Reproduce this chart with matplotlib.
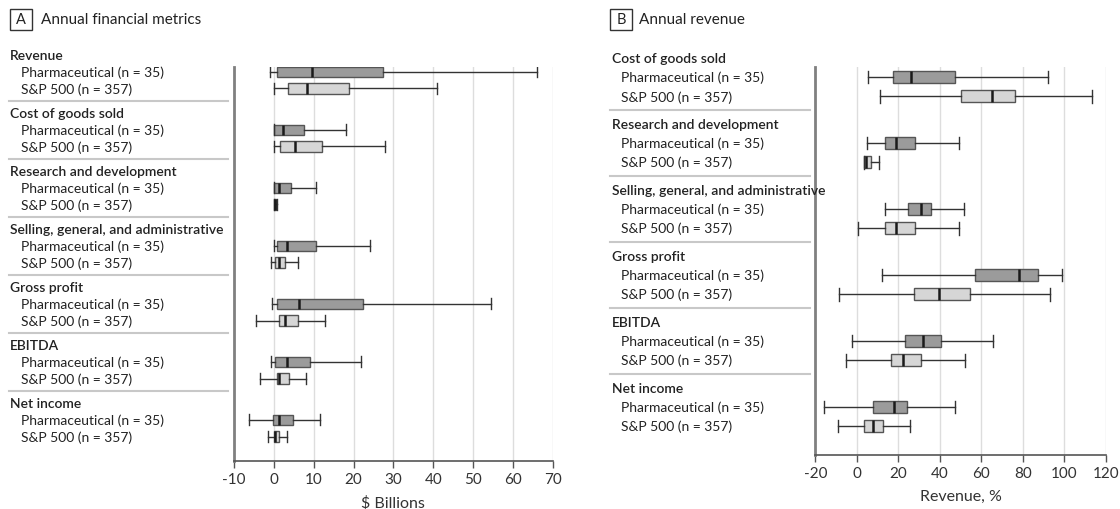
import matplotlib
matplotlib.use('Agg')
import matplotlib.pyplot as plt
import matplotlib.transforms as mtrans
from matplotlib.patches import Rectangle
from matplotlib.lines import Line2D

plt.rcParams['font.family'] = ['Lato', 'DejaVu Sans']

groups = ["Pharmaceutical (n = 35)", "S&P 500 (n = 357)"]

# ---- Panel A: $ billions, each row = [whisker low, Q1, median, Q3, whisker high]
metrics_a = ["Revenue", "Cost of goods sold", "Research and development",
             "Selling, general, and administrative", "Gross profit", "EBITDA",
             "Net income"]
pharma_a = [
    [-1.0, 0.7, 9.7, 27.5, 66.0],
    [0.0, 0.1, 2.2, 7.5, 18.2],
    [0.0, 0.1, 1.2, 4.4, 10.6],
    [0.0, 0.7, 3.4, 10.5, 24.1],
    [-0.5, 0.9, 6.4, 22.5, 54.4],
    [-0.8, 0.3, 3.2, 9.2, 22.0],
    [-6.2, -0.2, 1.3, 4.7, 11.6],
]
sp_a = [
    [0.0, 3.6, 8.4, 18.8, 41.0],
    [0.0, 1.6, 5.2, 12.2, 27.8],
    [0.0, 0.05, 0.3, 0.5, 0.7],
    [-0.8, 0.3, 1.2, 2.8, 6.0],
    [-4.6, 1.3, 2.9, 6.1, 12.9],
    [-3.4, 0.7, 1.4, 3.8, 8.0],
    [-1.5, 0.1, 0.4, 1.4, 3.3],
]
xticks_a = [-10, 0, 10, 20, 30, 40, 50, 60, 70]

# ---- Panel B: % of revenue
metrics_b = ["Cost of goods sold", "Research and development",
             "Selling, general, and administrative", "Gross profit", "EBITDA",
             "Net income"]
pharma_b = [
    [5.6, 17.3, 26.2, 47.2, 92.0],
    [5.0, 13.5, 19.1, 28.1, 49.3],
    [13.7, 24.7, 30.8, 35.7, 51.4],
    [12.2, 56.9, 78.2, 87.2, 99.0],
    [-2.2, 23.1, 32.1, 40.6, 65.7],
    [-15.6, 8.0, 17.7, 24.4, 47.2],
]
sp_b = [
    [11.4, 50.3, 64.9, 76.3, 113.3],
    [3.5, 3.5, 4.2, 6.7, 10.6],
    [0.8, 13.7, 19.1, 28.1, 49.3],
    [-8.7, 27.6, 39.5, 54.5, 93.0],
    [-5.1, 16.4, 22.2, 31.0, 52.2],
    [-9.2, 3.5, 7.6, 12.7, 25.5],
]
xticks_b = [-20, 0, 20, 40, 60, 80, 100, 120]

W, H = 1120, 510
fig = plt.figure(figsize=(W / 100, H / 100), dpi=100)

PH_COLOR = '#9b9b9b'
SP_COLOR = '#d6d6d6'


def panel(rect, metrics, pharma, sp, xticks, xlabel, step, ylim,
          head_x, sub_x, sep_x0, sep_x1, sep_off, letter, title, box_x, title_x):
    ax = fig.add_axes(rect)
    stats, pos, cols = [], [], []
    for i, (p, s) in enumerate(zip(pharma, sp)):
        for row, off, c in ((p, 0, PH_COLOR), (s, 1, SP_COLOR)):
            stats.append(dict(whislo=row[0], q1=row[1], med=row[2], q3=row[3],
                              whishi=row[4], fliers=[]))
            pos.append(i * step + off)
            cols.append(c)
    bp = ax.bxp(stats, positions=pos, orientation='horizontal', widths=0.62,
                capwidths=0.66, patch_artist=True, showfliers=False,
                boxprops=dict(edgecolor='#555555', linewidth=1.0),
                medianprops=dict(color='#1a1a1a', linewidth=1.8),
                whiskerprops=dict(color='#333333', linewidth=1.0),
                capprops=dict(color='#333333', linewidth=1.0))
    for patch, c in zip(bp['boxes'], cols):
        patch.set_facecolor(c)
    ax.set_xlim(xticks[0], xticks[-1])
    ax.set_xticks(xticks)
    ax.set_xticklabels([str(t) for t in xticks])
    ax.set_ylim(*ylim)
    ax.set_yticks([])
    ax.xaxis.grid(True, color='#dddddd', linewidth=1.0)
    ax.set_axisbelow(True)
    for s in ('top', 'right'):
        ax.spines[s].set_visible(False)
    ax.spines['left'].set_color('#808080')
    ax.spines['left'].set_linewidth(2.0)
    ax.spines['bottom'].set_color('#555555')
    ax.spines['bottom'].set_linewidth(1.2)
    ax.tick_params(axis='x', length=5, width=1.0, color='#555555',
                   labelsize=11, labelcolor='#333333', pad=3)
    ax.set_xlabel(xlabel, fontsize=11.5, color='#333333', labelpad=6)

    tr = mtrans.blended_transform_factory(fig.transFigure, ax.transData)
    for i, m in enumerate(metrics):
        y0 = i * step
        fig.text(head_x / W, y0 - 1, m, transform=tr, fontsize=10,
                 fontweight='semibold', color='#222222', va='center', ha='left')
        for j, g in enumerate(groups):
            fig.text(sub_x / W, y0 + j, g, transform=tr, fontsize=10,
                     color='#222222', va='center', ha='left')
        if i < len(metrics) - 1:
            ys = y0 + 1 + sep_off
            fig.add_artist(Line2D([sep_x0 / W, sep_x1 / W], [ys, ys], transform=tr,
                                  color='#c8c8c8', linewidth=1.5))
    # panel letter box and title
    fig.add_artist(Rectangle((box_x / W, 1 - 30.5 / H), 22 / W, 21 / H,
                             transform=fig.transFigure, fill=False,
                             edgecolor='#333333', linewidth=1.0))
    fig.text((box_x + 11) / W, 1 - 20 / H, letter, fontsize=10.5, ha='center',
             va='center', color='#222222')
    fig.text(title_x / W, 1 - 19.5 / H, title, fontsize=11, ha='left',
             va='center', color='#222222')
    return ax


# Panel A
panel([234 / W, 1 - 462.3 / H, (552.7 - 234) / W, (462.3 - 67.7) / H],
      metrics_a, pharma_a, sp_a, xticks_a, "$ Billions", 3.47, (23.3, -0.3),
      10, 21, 9, 228, 0.74, "A", "Annual financial metrics", 10, 40.5)

# Panel B
panel([815.3 / W, 1 - 456 / H, (1106 - 815.3) / W, (456 - 68) / H],
      metrics_b, pharma_b, sp_b, xticks_b, "Revenue, %", 3.43, (19.65, -0.52),
      612, 621, 610, 810, 0.72, "B", "Annual revenue", 610, 639)

fig.savefig('out.png', dpi=100, facecolor='white')
